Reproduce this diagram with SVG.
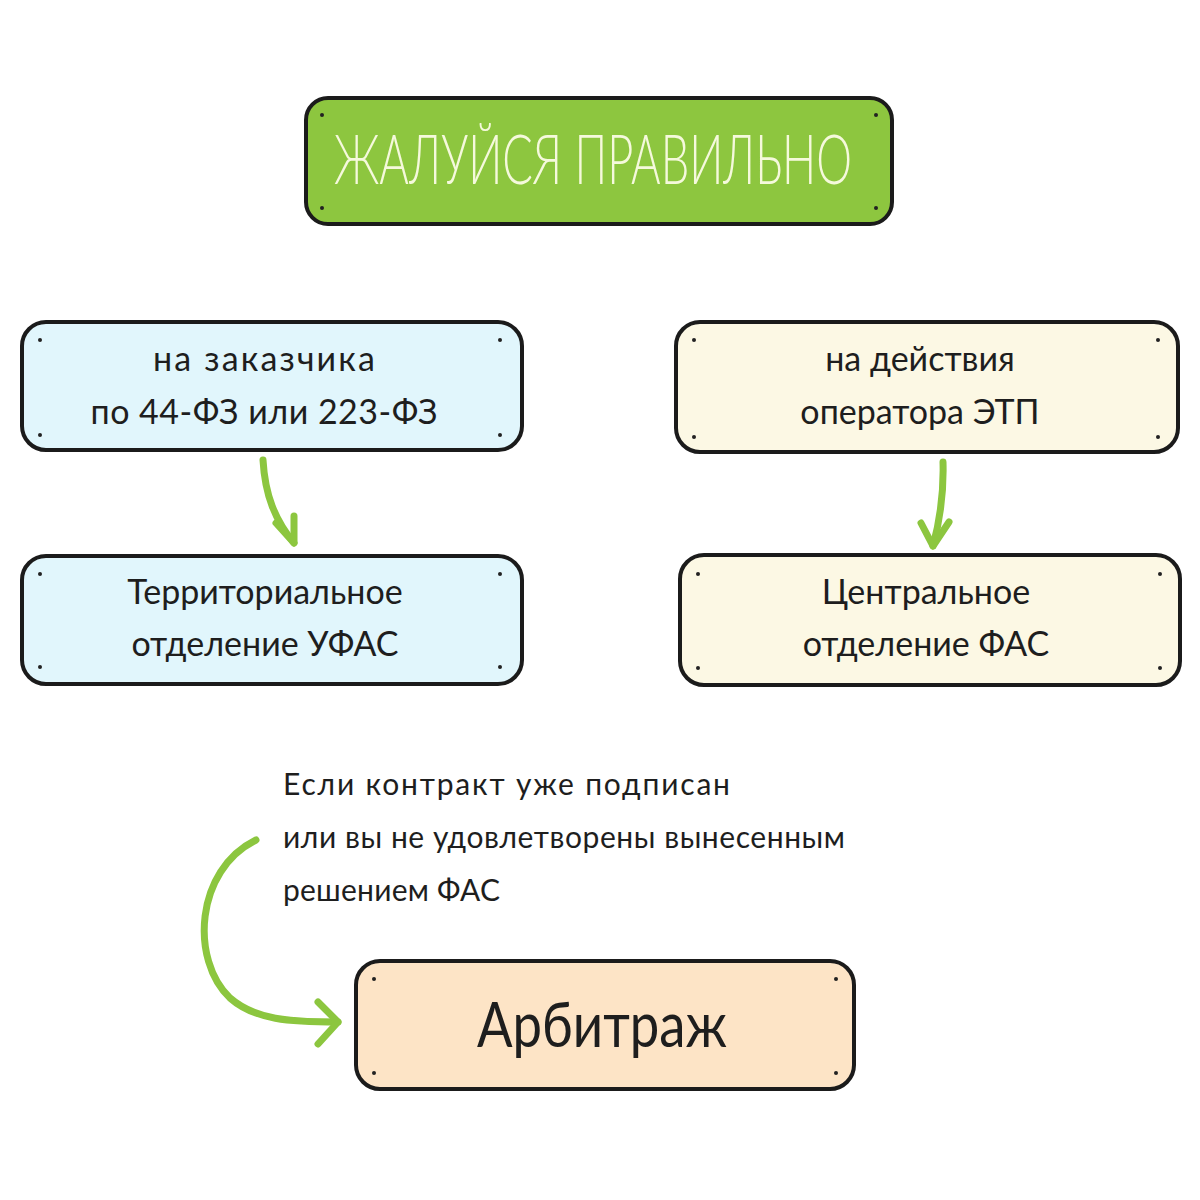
<svg xmlns="http://www.w3.org/2000/svg" width="1200" height="1200" viewBox="0 0 1200 1200">
<style>
.box{stroke:#1b1b1b;stroke-width:4;}
.dot{fill:#222;}
.t{font-family:"Lato","Open Sans",sans-serif;fill:#1e1e1e;text-anchor:middle;}
.n{font-family:"Lato","Open Sans",sans-serif;fill:#1e1e1e;font-size:30px;}
.arr{fill:none;stroke:#8cc63f;stroke-width:7;stroke-linecap:round;stroke-linejoin:round;}
</style>
<rect width="1200" height="1200" fill="#ffffff"/>
<g id="title">
<rect class="box" x="306" y="98" width="586" height="126" rx="22" fill="#8dc63f"/>
<circle class="dot" cx="322" cy="115" r="2"/><circle class="dot" cx="876" cy="115" r="2"/>
<circle class="dot" cx="322" cy="208" r="2"/><circle class="dot" cx="876" cy="208" r="2"/>
<text x="593" y="184" font-family="Lato, 'Open Sans', sans-serif" font-weight="300" font-size="68" fill="#f5f9dc" text-anchor="middle" textLength="518" lengthAdjust="spacingAndGlyphs">ЖАЛУЙСЯ ПРАВИЛЬНО</text>
</g>
<g id="customer">
<rect class="box" x="22" y="322" width="500" height="128" rx="24" fill="#e1f6fc"/>
<circle class="dot" cx="40" cy="340" r="2"/><circle class="dot" cx="500" cy="340" r="2"/>
<circle class="dot" cx="40" cy="435" r="2"/><circle class="dot" cx="500" cy="435" r="2"/>
<text class="t" x="264" y="371" font-size="34" textLength="222">на заказчика</text>
<text class="t" x="264" y="424" font-size="34" textLength="347">по 44-ФЗ или 223-ФЗ</text>
</g>
<g id="operator">
<rect class="box" x="676" y="322" width="502" height="130" rx="24" fill="#fcf8e4"/>
<circle class="dot" cx="694" cy="340" r="2"/><circle class="dot" cx="1158" cy="340" r="2"/>
<circle class="dot" cx="694" cy="437" r="2"/><circle class="dot" cx="1158" cy="437" r="2"/>
<text class="t" x="920" y="371" font-size="34">на действия</text>
<text class="t" x="920" y="424" font-size="34">оператора ЭТП</text>
</g>
<g id="ufas">
<rect class="box" x="22" y="556" width="500" height="128" rx="24" fill="#e1f6fc"/>
<circle class="dot" cx="40" cy="574" r="2"/><circle class="dot" cx="500" cy="574" r="2"/>
<circle class="dot" cx="40" cy="667" r="2"/><circle class="dot" cx="500" cy="667" r="2"/>
<text class="t" x="265" y="604" font-size="34">Территориальное</text>
<text class="t" x="265" y="656" font-size="34">отделение УФАС</text>
</g>
<g id="fas">
<rect class="box" x="680" y="555" width="500" height="130" rx="24" fill="#fcf8e4"/>
<circle class="dot" cx="698" cy="574" r="2"/><circle class="dot" cx="1160" cy="574" r="2"/>
<circle class="dot" cx="698" cy="668" r="2"/><circle class="dot" cx="1160" cy="668" r="2"/>
<text class="t" x="926" y="604" font-size="34">Центральное</text>
<text class="t" x="926" y="656" font-size="34">отделение ФАС</text>
</g>
<g id="arbitrage">
<rect class="box" x="356" y="961" width="498" height="128" rx="24" fill="#fde4c6"/>
<circle class="dot" cx="374" cy="979" r="2"/><circle class="dot" cx="836" cy="979" r="2"/>
<circle class="dot" cx="374" cy="1073" r="2"/><circle class="dot" cx="836" cy="1073" r="2"/>
<text class="t" x="602" y="1047" font-size="62" textLength="250" lengthAdjust="spacingAndGlyphs">Арбитраж</text>
</g>
<g id="note">
<text class="n" x="283" y="795" textLength="447">Если контракт уже подписан</text>
<text class="n" x="283" y="848" textLength="562">или вы не удовлетворены вынесенным</text>
<text class="n" x="283" y="901" textLength="217">решением ФАС</text>
</g>
<g id="connectors">
<path class="arr" d="M263 460 C265 495 275 520 294 543"/>
<path class="arr" d="M276 523 L294 543 L294 516"/>
<path class="arr" d="M943 462 C944 495 940 520 933 546"/>
<path class="arr" d="M921 523 L933 546 L949 522"/>
<path class="arr" d="M256 840 C195 870 190 960 230 998 C255 1020 290 1022 338 1022"/>
<path class="arr" d="M318 1002 L338 1022 L318 1044"/>
</g>
</svg>
